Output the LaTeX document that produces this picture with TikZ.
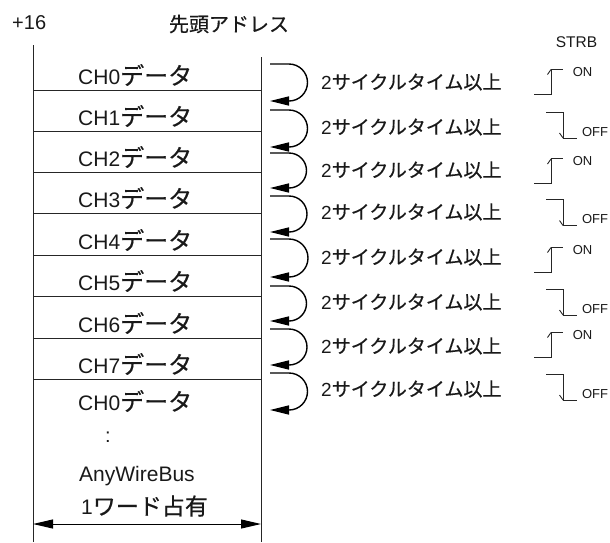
\documentclass[tikz,border=0pt]{standalone}
\usepackage{fontspec}
\setmainfont{Liberation Sans}
\newfontfamily\jpfam[FakeBold=0.5]{Noto Sans CJK JP}
\usetikzlibrary{arrows.meta}
\newcommand\JPtxt[2]{{\jpfam\fontsize{#1}{#1}\selectfont #2}}
\newcommand\LTsz[1]{\fontsize{#1}{#1}\selectfont}
\begin{document}
\begin{tikzpicture}[x=1pt,y=-1pt,
  tbl/.style={draw=black!85, line width=0.9pt},
  lbl/.style={inner sep=0pt, anchor=west, text=black!90},
  ctr/.style={inner sep=0pt, text=black!90},
  loopar/.style={line width=1.4pt, -{Triangle[length=19pt,width=9pt]}},
  sig/.style={line width=0.9pt, draw=black!85},
  dbl/.style={line width=1pt, {Triangle[length=20pt,width=9pt]}-{Triangle[length=20pt,width=9pt]}}]
\useasboundingbox (0,0) rectangle (610,542);

% headers
\node[lbl, font=\LTsz{20}] (plus) at (12,23) {+16};
\node[ctr] (head) at (229,24) {\JPtxt{20}{先頭アドレス}};
\node[ctr, font=\LTsz{15.5}] (strb) at (576.5,42) {STRB};

% table frame
\coordinate (ltop) at (33,45);
\coordinate (lbot) at (33,542);
\coordinate (rtop) at (261,57);
\coordinate (rbot) at (261,542);
\draw[tbl] (ltop) -- (lbot);
\draw[tbl] (rtop) -- (rbot);
\foreach \y in {90,131,172,213,255,296,338,379}
  \draw[tbl] (33,\y) -- (261,\y);

% row labels
\foreach \i/\y in {0/75,1/116,2/157,3/198,4/240,5/281,6/323,7/364}
  \node[lbl, font=\LTsz{21}] (ch\i) at (78,\y) {CH\i\JPtxt{24}{データ}};
\node[lbl, font=\LTsz{21}] (ch8) at (78,401) {CH0\JPtxt{24}{データ}};
\node[ctr, font=\LTsz{20}] (dots) at (108,437) {:};
\node[lbl, font=\LTsz{21}] (awb) at (79,476) {AnyWireBus};
\node[lbl, font=\LTsz{21}] (word) at (81,506) {1\JPtxt{23}{ワード占有}};

% width arrow
\coordinate (al) at (33,524);
\coordinate (ar) at (261,524);
\draw[dbl] (al) -- (ar);

% loop arrows and cycle labels
\foreach \i/\s/\e/\c in {1/64/101/82,2/110/147/127,3/153/188/170,4/196/232/212,5/239/277/257,6/286/321/302,7/329/365/346,8/373/410/389}{
  \pgfmathsetmacro\rr{(\e-\s)/2}
  \coordinate (s\i) at (270,\s);
  \coordinate (e\i) at (270,\e);
  \draw[loopar] (s\i) -- ++(19,0) arc[start angle=90,end angle=-90,radius=\rr pt] -- (e\i);
  \node[lbl, font=\LTsz{19}] (cy\i) at (321,\c) {2\JPtxt{19}{サイクルタイム以上}};
}

% STRB signals
\foreach \k/\c in {1/81.5,3/171,5/259.5,7/344.5}{
  \draw[sig] (534,\c+12.5) -- (551,\c+12.5) -- (551,\c-12.5) -- (563,\c-12.5);
  \draw[sig] (547.5,\c-7) -- (551,\c-12);
  \node[ctr, font=\LTsz{13}] (on\k) at (582.5,\c-9.5) {ON};
}
\foreach \k/\c in {2/125,4/212.5,6/302,8/387}{
  \draw[sig] (546,\c-13) -- (563,\c-13) -- (563,\c+13) -- (577,\c+13);
  \draw[sig] (559.5,\c+8) -- (563,\c+13);
  \node[ctr, font=\LTsz{13}] (off\k) at (595,\c+7) {OFF};
}
\end{tikzpicture}
\end{document}
